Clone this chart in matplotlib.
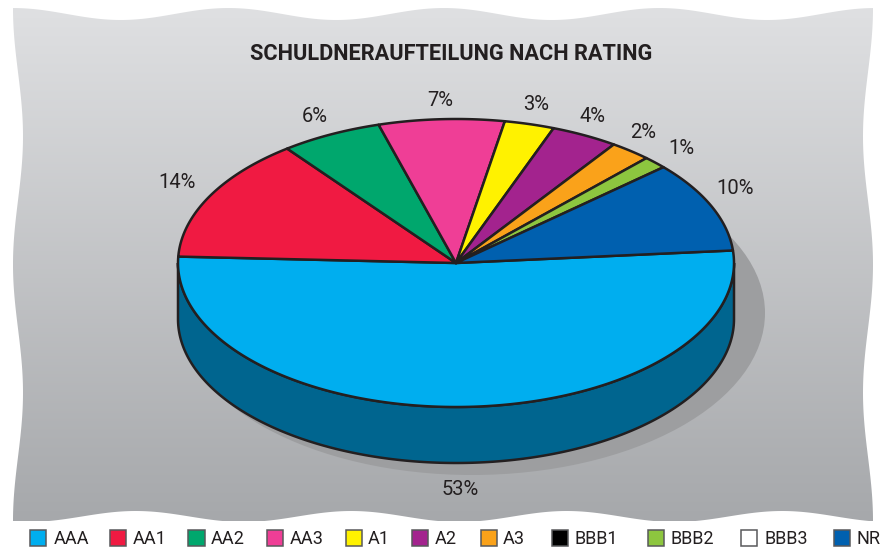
import numpy as np
import matplotlib
matplotlib.use('Agg')
import matplotlib.pyplot as plt
from matplotlib.patches import Polygon, Rectangle, Ellipse

plt.rcParams['font.family'] = ['Roboto', 'DejaVu Sans']

# Data
ratings = ['AAA', 'AA1', 'AA2', 'AA3', 'A1', 'A2', 'A3', 'BBB1', 'BBB2', 'BBB3', 'NR']
# slice sizes as they are drawn in the picture (% of the circle)
shares = [52.1, 13.9, 5.9, 7.3, 2.9, 3.9, 2.4, 0, 1.4, 0, 10.2]
share_labels = ['53%', '14%', '6%', '7%', '3%', '4%', '2%', '', '1%', '', '10%']
colors = ['#00aeef', '#f01a42', '#00a76d', '#ef3e96', '#fff200', '#a3238e',
          '#faa21a', '#000000', '#8dc63f', '#ffffff', '#0060af']
title = 'SCHULDNERAUFTEILUNG NACH RATING'

# Layout, in pixels
W, H = 884, 550
CX, CY, RX, RY = 456, 263, 278, 144
DEPTH = 56
START_ANGLE = 5
LINE = '#231f20'
SIDE = '#00658f'
SHADOW = '#9d9ea0'
label_xy = [(460, 489.5), (177, 182.5), (315, 117), (440, 100), (536, 104), (592, 116),
            (643, 133), None, (681, 148), None, (735, 188.5)]
swatch_x = [29, 109, 187.5, 266, 345, 411, 480, 551, 647, 740, 833]
legend_text_x = [54, 132.5, 211, 289.5, 368, 434.5, 503, 574, 671, 764, 857]


def ellipse_points(deg, cy=CY):
    t = np.radians(deg)
    return np.column_stack([CX + RX * np.cos(t), cy - RY * np.sin(t)])


# Wavy outline of the grey panel
def panel_outline():
    xs = np.linspace(13, 873, 300)
    ys = np.linspace(8, 521, 200)
    top = np.column_stack([xs, 14 - 6 * np.cos(2 * np.pi * (xs - 13) / 215.5)])
    right = np.column_stack([868 + 5 * np.cos(2 * np.pi * (ys - 8) / 256.5), ys])
    bottom = np.column_stack([xs[::-1], 516.5 + 5.5 * np.cos(2 * np.pi * (xs[::-1] - 28) / 215.5)])
    left = np.column_stack([18 - 5 * np.cos(2 * np.pi * (ys[::-1] - 8) / 256.5), ys[::-1]])
    return np.vstack([top, right, bottom, left])


fig = plt.figure(figsize=(W / 100, H / 100), dpi=100, facecolor='white')
ax = fig.add_axes([0, 0, 1, 1])

# Panel with vertical gradient
grad = np.linspace(0, 1, 256).reshape(-1, 1)
cmap = matplotlib.colors.LinearSegmentedColormap.from_list('panel', ['#dfe0e2', '#a6a8ab'])
im = ax.imshow(grad, cmap=cmap, extent=(0, W, 521, 8), aspect='auto', zorder=1)
clip = Polygon(panel_outline(), closed=True, transform=ax.transData, facecolor='none', edgecolor='none')
ax.add_patch(clip)
im.set_clip_path(clip)

# Shadow
ax.add_patch(Ellipse((472, 313), 2 * 293, 2 * 162, facecolor=SHADOW, edgecolor='none', zorder=2))

# Side wall
front = ellipse_points(np.linspace(0, -180, 200))
back = ellipse_points(np.linspace(-180, 0, 200), CY + DEPTH)
ax.add_patch(Polygon(np.vstack([front, back]), closed=True, facecolor=SIDE,
                     edgecolor=LINE, linewidth=1.8, zorder=3))

# Top slices, clockwise from the right edge
angle = START_ANGLE
for share, color in zip(shares, colors):
    if share == 0:
        continue
    end = angle - share * 3.6
    arc = ellipse_points(np.linspace(angle, end, 200))
    ax.add_patch(Polygon(np.vstack([[CX, CY], arc]), closed=True, facecolor=color,
                         edgecolor=LINE, linewidth=1.8, joinstyle='round', zorder=4))
    angle = end

# Labels
for text, xy in zip(share_labels, label_xy):
    if xy:
        ax.text(xy[0], xy[1], text, fontsize=14.5, color=LINE, ha='center', va='center', zorder=5)

ax.text(451, 54, title, fontsize=15.7, fontweight='bold', color=LINE, ha='center', va='center', zorder=5)

# Legend
for name, color, sx, tx in zip(ratings, colors, swatch_x, legend_text_x):
    ax.add_patch(Rectangle((sx + 0.5, 529.5), 16.5, 16, facecolor=color, edgecolor='#58595b',
                           linewidth=1.1, zorder=5))
    ax.text(tx, 539, name, fontsize=13, color=LINE, ha='left', va='center', zorder=5)

ax.set_xlim(0, W)
ax.set_ylim(H, 0)
ax.axis('off')

fig.savefig('out.png', dpi=100, facecolor='white')
